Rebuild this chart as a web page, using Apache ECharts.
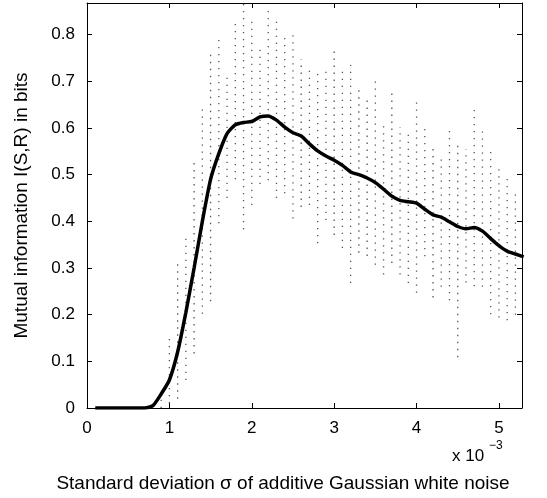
<!DOCTYPE html>
<html><head><meta charset="utf-8">
<script src="https://cdn.jsdelivr.net/npm/echarts@6/dist/echarts.min.js"></script>
<style>html,body{margin:0;padding:0;background:#fff}#c{width:547px;height:498px}</style>
</head><body><div id="c"></div>
<script>
// noise standard deviation (x 10^-3) for the mean curve
const sigma = [0.1,0.2,0.3,0.4,0.5,0.6,0.7,0.8,0.9,1.0,1.1,1.2,1.3,1.4,1.5,1.6,1.7,1.8,1.9,2.0,2.1,2.2,2.3,2.4,2.5,2.6,2.7,2.8,2.9,3.0,3.1,3.2,3.3,3.4,3.5,3.6,3.7,3.8,3.9,4.0,4.1,4.2,4.3,4.4,4.5,4.6,4.7,4.8,4.9,5.0,5.1,5.2,5.3];
// mean mutual information (bits)
const meanMI = [0,0,0,0,0,0,0,0.005,0.03,0.06,0.12,0.205,0.30,0.40,0.49,0.545,0.588,0.607,0.612,0.614,0.624,0.626,0.617,0.602,0.59,0.583,0.566,0.551,0.540,0.531,0.52,0.506,0.50,0.493,0.483,0.469,0.454,0.445,0.442,0.439,0.426,0.414,0.409,0.399,0.389,0.384,0.387,0.379,0.363,0.348,0.336,0.33,0.324];
// spread of individual trials (dotted columns)
const trialSigma = [0.9,1.0,1.1,1.2,1.3,1.4,1.5,1.6,1.7,1.8,1.9,2.0,2.1,2.2,2.3,2.4,2.5,2.6,2.7,2.8,2.9,3.0,3.1,3.2,3.3,3.4,3.5,3.6,3.7,3.8,3.9,4.0,4.1,4.2,4.3,4.4,4.5,4.6,4.7,4.8,4.9,5.0,5.1,5.2];
const trialLow  = [0.0,0.01,0.02,0.06,0.117,0.202,0.229,0.396,0.45,0.49,0.383,0.435,0.48,0.488,0.45,0.46,0.406,0.431,0.435,0.353,0.403,0.371,0.343,0.268,0.333,0.326,0.307,0.286,0.311,0.286,0.268,0.247,0.325,0.237,0.26,0.231,0.109,0.269,0.261,0.26,0.201,0.194,0.188,0.2];
const trialHigh = [0.04,0.15,0.31,0.365,0.528,0.646,0.765,0.80,0.713,0.835,0.87,0.832,0.775,0.852,0.833,0.797,0.805,0.747,0.726,0.726,0.727,0.767,0.726,0.735,0.689,0.669,0.707,0.605,0.679,0.602,0.588,0.662,0.603,0.56,0.537,0.598,0.562,0.555,0.645,0.595,0.555,0.516,0.496,0.463];
const xTickLabels = [0,1,2,3,4,5];
const yTickLabels = [0,0.1,0.2,0.3,0.4,0.5,0.6,0.7,0.8];

const FONT = 'Liberation Sans';
const chart = echarts.init(document.getElementById('c'), null, {renderer:'canvas'});
const axisCommon = {
  axisLine:{show:true, onZero:false, lineStyle:{color:'#000', width:1}},
  axisTick:{show:true, inside:true, length:5, lineStyle:{color:'#000', width:1}},
  splitLine:{show:false}
};
chart.setOption({
  animation:false,
  backgroundColor:'#fff',
  grid:{left:87, right:25, top:3, bottom:87, containLabel:false},
  xAxis:[
    Object.assign({type:'value', min:0, max:5.28, interval:1, position:'bottom',
      axisLabel:{color:'#000', fontSize:17, fontFamily:FONT, margin:12,
        formatter:v => xTickLabels.indexOf(Math.round(v*1000)/1000) >= 0 ? String(Math.round(v)) : ''},
      name:'Standard deviation σ of additive Gaussian white noise', nameLocation:'middle', nameGap:66,
      nameTextStyle:{color:'#000', fontSize:19, fontFamily:FONT, padding:[0,43,0,0]}}, axisCommon),
    Object.assign({type:'value', min:0, max:5.28, interval:1, position:'top', axisLabel:{show:false}}, axisCommon)
  ],
  yAxis:[
    Object.assign({type:'value', min:0, max:0.868, interval:0.1, position:'left',
      axisLabel:{color:'#000', fontSize:17, fontFamily:FONT, margin:12,
        formatter:v => { const r = Math.round(v*10)/10; return (Math.abs(v-r)<1e-6 && yTickLabels.indexOf(r)>=0) ? String(r) : ''; }},
      name:'Mutual information I(S,R) in bits', nameLocation:'middle', nameGap:56,
      nameTextStyle:{color:'#000', fontSize:19, fontFamily:FONT}}, axisCommon),
    Object.assign({type:'value', min:0, max:0.868, interval:0.1, position:'right', axisLabel:{show:false}}, axisCommon)
  ],
  graphic:[
    {type:'text', left:452, top:448, style:{text:'x 10', fill:'#000', font:'17px "Liberation Sans"'}},
    {type:'text', left:489, top:440, style:{text:'−3', fill:'#000', font:'12px "Liberation Sans"'}}
  ],
  series:[
    {type:'custom', xAxisIndex:0, yAxisIndex:0, clip:true, silent:true,
      data: trialSigma.map((x,i)=>[x, trialLow[i], trialHigh[i]]),
      encode:{x:0, y:[1,2]},
      renderItem:function(params, api){
        const p1 = api.coord([api.value(0), api.value(1)]);
        const p2 = api.coord([api.value(0), api.value(2)]);
        return {type:'line', shape:{x1:p1[0], y1:p1[1], x2:p2[0], y2:p2[1]},
          style:{stroke:'#555', lineWidth:1.3, lineDash:[1.3,5.7]}};
      }},
    {type:'line', xAxisIndex:0, yAxisIndex:0, data: sigma.map((x,i)=>[x, meanMI[i]]),
      showSymbol:false, symbol:'none', smooth:0.2, clip:true,
      lineStyle:{color:'#000', width:3.5}}
  ]
});
</script></body></html>
